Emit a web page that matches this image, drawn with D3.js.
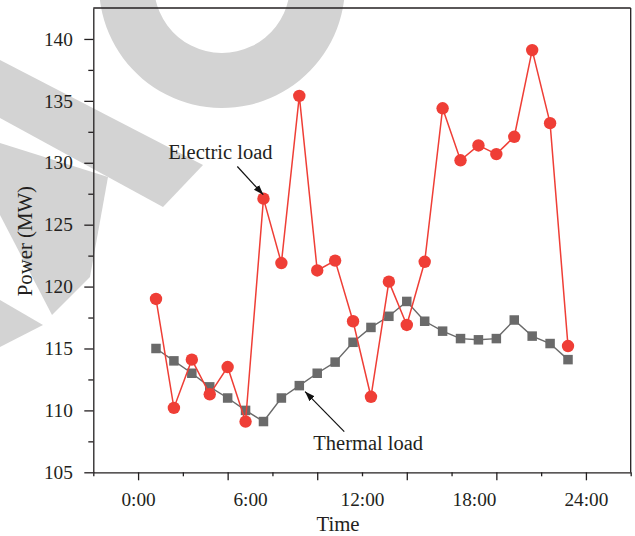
<!DOCTYPE html>
<html>
<head>
<meta charset="utf-8">
<script src="https://cdn.jsdelivr.net/npm/d3@7"></script>
<style>
  html, body { margin: 0; padding: 0; background: #fff; }
  svg { display: block; }
  text { font-family: "Liberation Serif", "DejaVu Serif", serif; fill: #231f20; }
</style>
</head>
<body>
<svg id="chart" width="635" height="536"></svg>
<script>
// ---- data ----
const hours = [1,2,3,4,5,6,7,8,9,10,11,12,13,14,15,16,17,18,19,20,21,22,23,24];
const electricLoad = [119.0,110.2,114.1,111.3,113.5,109.1,127.1,121.9,135.4,121.3,122.1,117.2,111.1,120.4,116.9,122.0,134.4,130.2,131.4,130.7,132.1,139.1,133.2,115.2];
const thermalLoad = [115.0,114.0,113.0,111.9,111.0,110.0,109.1,111.0,112.0,113.0,113.9,115.5,116.7,117.6,118.8,117.2,116.4,115.8,115.7,115.8,117.3,116.0,115.4,114.1];
const xLabelPositions = [0, 6.25, 12.5, 18.75, 25];
const xTickLabels = ["0:00", "6:00", "12:00", "18:00", "24:00"];
const yTickValues = [105, 110, 115, 120, 125, 130, 135, 140];
const seriesNames = ["Electric load", "Thermal load"];

// watermark decoration (pixel space)
const watermarkPolys = [
  [[0,60],[203,165],[163,207],[108,177],[0,118]],
  [[0,143],[108,177],[90,277],[52,315],[0,215]],
  [[0,300],[43,325],[0,347]]
];

const W = 635, H = 536;
const margin = {left: 93.3, top: 8, right: 4.3, bottom: 63.7};
const svg = d3.select("#chart");

// watermark
const wm = svg.append("g").attr("fill", "#d3d3d3");
svg.append("defs").append("clipPath").attr("id", "ringclip")
  .append("path").attr("d", "M-300,-200 L233,-200 L433,200 L-300,200 Z");
wm.append("path")
  .attr("clip-path", "url(#ringclip)")
  .attr("transform", "translate(222,-15)")
  .attr("d", d3.arc()({innerRadius: 68, outerRadius: 123, startAngle: 1.3, endAngle: 5.0}));
wm.selectAll("polygon.wm").data(watermarkPolys).join("polygon")
  .attr("points", d => d.map(p => p.join(",")).join(" "));

const x = d3.scaleLinear().domain([-2.5, 27.5]).range([margin.left, W - margin.right]);
const y = d3.scaleLinear().domain([105, 142.5]).range([H - margin.bottom, margin.top]);

const axisColor = "#231f20";

// frame top and right
svg.append("line").attr("x1", x(-2.5)).attr("x2", x(27.5)).attr("y1", y(142.5)).attr("y2", y(142.5))
  .attr("stroke", axisColor).attr("stroke-width", 1.3);
svg.append("line").attr("x1", x(27.5)).attr("x2", x(27.5)).attr("y1", y(142.5)).attr("y2", y(105))
  .attr("stroke", axisColor).attr("stroke-width", 1.3);

// x axis: minor + major tick marks
const xMinor = [-2.5, 2.5, 7.5, 12.5, 17.5, 22.5, 27.5];
const xMajor = [0, 5, 10, 15, 20, 25];
const gx = svg.append("g").attr("transform", `translate(0,${y(105)})`);
gx.call(d3.axisBottom(x).tickValues(xMajor).tickSize(8).tickFormat("").tickSizeOuter(0));
gx.append("g").call(d3.axisBottom(x).tickValues(xMinor).tickSize(4).tickFormat("").tickSizeOuter(0))
  .select(".domain").remove();
gx.append("g").call(d3.axisBottom(x).tickValues(xLabelPositions).tickSize(0)
    .tickFormat((d, i) => xTickLabels[i]).tickPadding(20))
  .call(g => g.select(".domain").remove());
gx.selectAll("path, line").attr("stroke", axisColor).attr("stroke-width", 1.3);
gx.selectAll("text").attr("font-size", "19.3px").attr("fill", axisColor)
  .attr("font-family", "Liberation Serif, serif");

// y axis
const yMinor = [107.5, 112.5, 117.5, 122.5, 127.5, 132.5, 137.5];
const gy = svg.append("g").attr("transform", `translate(${x(-2.5)},0)`);
gy.call(d3.axisLeft(y).tickValues(yTickValues).tickSize(9).tickPadding(11.5).tickSizeOuter(0).tickFormat(d3.format("d")));
gy.append("g").call(d3.axisLeft(y).tickValues(yMinor).tickSize(5).tickFormat("").tickSizeOuter(0))
  .select(".domain").remove();
gy.selectAll("path, line").attr("stroke", axisColor).attr("stroke-width", 1.3);
gy.selectAll("text").attr("font-size", "19.3px").attr("fill", axisColor)
  .attr("font-family", "Liberation Serif, serif");

// axis titles
svg.append("text").attr("x", (x(-2.5) + x(27.5)) / 2 - 24).attr("y", 531)
  .attr("text-anchor", "middle").attr("font-size", "20.8px").text("Time");
svg.append("text").attr("transform", `translate(31.5,${(y(105) + y(142.5)) / 2 + 1}) rotate(-90)`)
  .attr("text-anchor", "middle").attr("font-size", "20.8px").text("Power (MW)");

// series
const thermalColor = "#6a6a6a";
const electricColor = "#ef3e36";
const line = d3.line().x((d, i) => x(hours[i])).y(d => y(d));

svg.append("path").datum(thermalLoad).attr("d", line)
  .attr("fill", "none").attr("stroke", thermalColor).attr("stroke-width", 1.4);
const sq = 9.5;
svg.selectAll("rect.th").data(thermalLoad).join("rect").attr("class", "th")
  .attr("x", (d, i) => x(hours[i]) - sq / 2).attr("y", d => y(d) - sq / 2)
  .attr("width", sq).attr("height", sq).attr("fill", thermalColor);

svg.append("path").datum(electricLoad).attr("d", line)
  .attr("fill", "none").attr("stroke", electricColor).attr("stroke-width", 1.5);
svg.selectAll("circle.el").data(electricLoad).join("circle").attr("class", "el")
  .attr("cx", (d, i) => x(hours[i])).attr("cy", d => y(d)).attr("r", 6.2)
  .attr("fill", electricColor);

// annotations
svg.select("defs").append("marker").attr("id", "arrow")
  .attr("viewBox", "0 0 10 10").attr("refX", 10).attr("refY", 5)
  .attr("markerWidth", 10).attr("markerHeight", 10).attr("markerUnits", "userSpaceOnUse")
  .attr("orient", "auto")
  .append("path").attr("d", "M0,1.5 L10,5 L0,8.5 Z").attr("fill", "#111");

const annotations = [
  {text: seriesNames[0], tx: 1.69, ty: 130.33, x1: 5.54, y1: 129.70, x2: 6.99, y2: 127.42},
  {text: seriesNames[1], tx: 9.78, ty: 106.8, x1: 11.51, y1: 108.28, x2: 9.32, y2: 111.52}
];
annotations.forEach(a => {
  svg.append("line").attr("x1", x(a.x1)).attr("y1", y(a.y1)).attr("x2", x(a.x2)).attr("y2", y(a.y2))
    .attr("stroke", "#111").attr("stroke-width", 1.2).attr("marker-end", "url(#arrow)");
  svg.append("text").attr("x", x(a.tx)).attr("y", y(a.ty)).attr("font-size", "20.5px").text(a.text);
});
</script>
</body>
</html>
